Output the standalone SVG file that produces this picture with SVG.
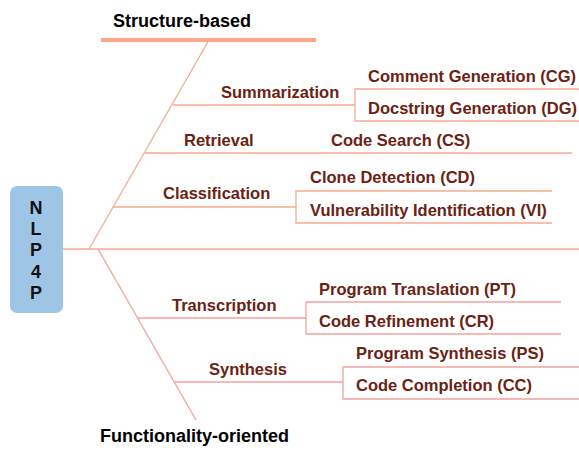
<svg xmlns="http://www.w3.org/2000/svg" width="579" height="450" viewBox="0 0 579 450">
<style>
.t{font-family:"Liberation Sans",Arial,sans-serif;font-weight:bold;font-size:16.5px;fill:#6c2213}
.h{font-family:"Liberation Sans",Arial,sans-serif;font-weight:bold;font-size:18px;fill:#000}
.up{stroke:#f9a98f;stroke-width:1.3;fill:none}
.lo{stroke:#f2a3a0;stroke-width:1.3;fill:none}
.r{font-family:"Liberation Sans",Arial,sans-serif;font-weight:bold;font-size:18px;fill:#111;text-anchor:middle}
</style>
<rect width="579" height="450" fill="#fff"/>
<g id="connectors">
<line class="up" x1="63" y1="249" x2="579" y2="249"/>
<line x1="101" y1="40" x2="316" y2="40" stroke="#fca789" stroke-width="4"/>
<line class="up" x1="89" y1="249" x2="209" y2="40"/>
<line class="lo" x1="98" y1="249" x2="196" y2="420"/>
<polyline class="up" points="173,105 355,105"/>
<polyline class="up" points="579,89 355,89 355,121 579,121"/>
<line class="up" x1="145" y1="153" x2="572" y2="153"/>
<line class="up" x1="113" y1="207" x2="296" y2="207"/>
<polyline class="up" points="552,191 296,191 296,223 552,223"/>
<line class="lo" x1="138" y1="318" x2="306" y2="318"/>
<polyline class="lo" points="561,302 306,302 306,334 561,334"/>
<line class="lo" x1="175" y1="382" x2="343" y2="382"/>
<polyline class="lo" points="579,367 343,367 343,399 579,399"/>
</g>
<g id="nlp4p">
<rect x="10" y="186" width="53" height="127" rx="7" fill="#9ec4e6"/>
<text class="r" x="36" y="214">N</text>
<text class="r" x="36" y="235">L</text>
<text class="r" x="36" y="256">P</text>
<text class="r" x="36" y="278">4</text>
<text class="r" x="36" y="299">P</text>
</g>
<g id="structure"><text class="h" x="113" y="27">Structure-based</text></g>
<g id="functionality"><text class="h" x="100" y="442">Functionality-oriented</text></g>
<g id="summarization"><text class="t" x="221" y="98">Summarization</text></g>
<g id="cg"><text class="t" x="368" y="82">Comment Generation (CG)</text></g>
<g id="dg"><text class="t" x="368" y="114">Docstring Generation (DG)</text></g>
<g id="retrieval"><text class="t" x="184" y="146">Retrieval</text></g>
<g id="cs"><text class="t" x="331" y="146">Code Search (CS)</text></g>
<g id="classification"><text class="t" x="163" y="199">Classification</text></g>
<g id="cd"><text class="t" x="310" y="183">Clone Detection (CD)</text></g>
<g id="vi"><text class="t" x="310" y="216">Vulnerability Identification (VI)</text></g>
<g id="transcription"><text class="t" x="172" y="311">Transcription</text></g>
<g id="pt"><text class="t" x="319" y="295">Program Translation (PT)</text></g>
<g id="cr"><text class="t" x="319" y="327">Code Refinement (CR)</text></g>
<g id="synthesis"><text class="t" x="209" y="375">Synthesis</text></g>
<g id="ps"><text class="t" x="356" y="359">Program Synthesis (PS)</text></g>
<g id="cc"><text class="t" x="356" y="391">Code Completion (CC)</text></g>
</svg>
